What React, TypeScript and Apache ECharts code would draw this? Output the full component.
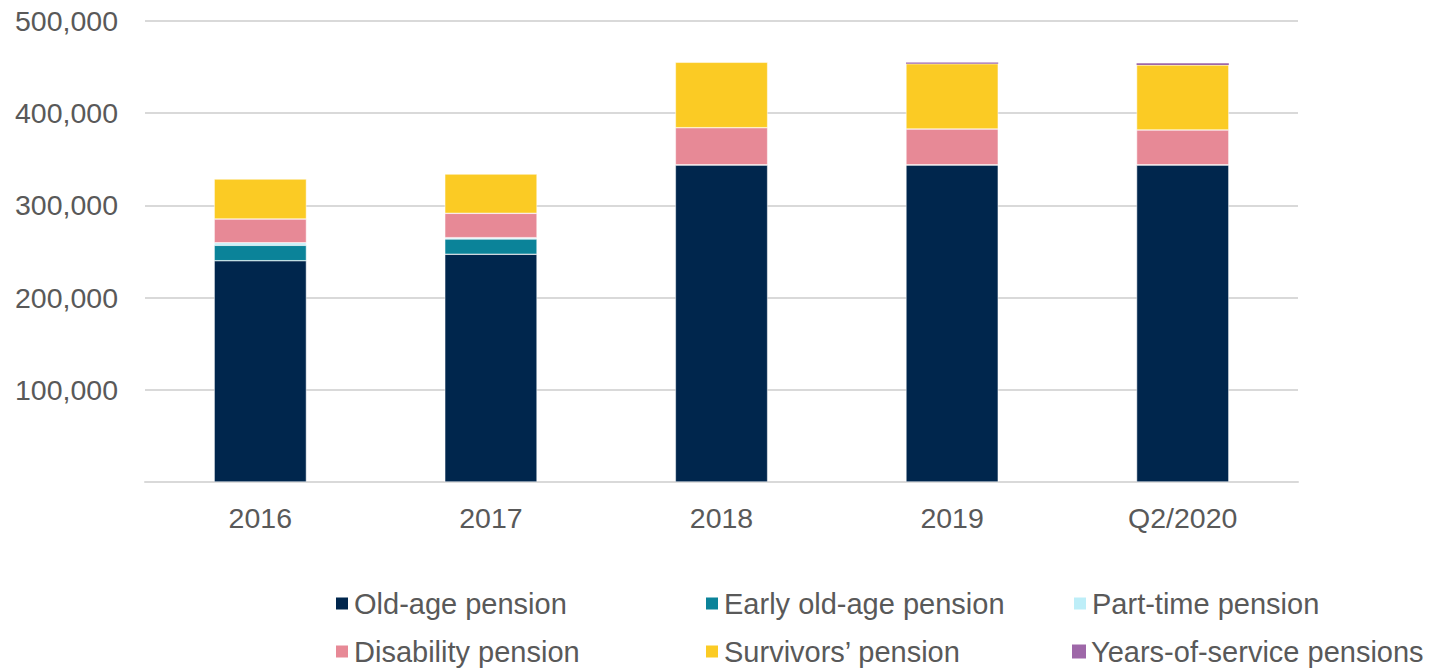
import React, { useEffect, useRef } from "react";
import * as echarts from "echarts";

const categories = ["2016", "2017", "2018", "2019", "Q2/2020"];
const oldAge = [240000, 247000, 344000, 344000, 344000];
const earlyOldAge = [16700, 16600, 0, 0, 0];
const partTime = [2800, 1400, 0, 0, 0];
const disability = [25700, 26400, 40300, 38800, 37800];
const survivors = [43400, 42600, 70900, 70800, 70500];
const yearsOfService = [0, 0, 0, 1500, 1800];

const seriesNames = [
  "Old-age pension",
  "Early old-age pension",
  "Part-time pension",
  "Disability pension",
  "Survivors\u2019 pension",
  "Years-of-service pensions",
];
const seriesData = [oldAge, earlyOldAge, partTime, disability, survivors, yearsOfService];
const colors = ["#00264d", "#0b8399", "#bdeef8", "#e78996", "#fbcb24", "#9e67a8"];

const FONT = "'Liberation Sans', Arial, sans-serif";
const TEXT_COLOR = "#595959";

export default function App() {
  const ref = useRef<HTMLDivElement>(null);

  useEffect(() => {
    if (!ref.current) return;
    const chart = echarts.init(ref.current, null, { renderer: "svg" });

    const legendPos = [
      { left: 334, top: 589 },
      { left: 704, top: 589 },
      { left: 1072, top: 589 },
      { left: 334, top: 637 },
      { left: 704, top: 637 },
      { left: 1072, top: 637 },
    ];

    chart.setOption({
      animation: false,
      color: colors,
      grid: { left: 145, right: 137, top: 21, bottom: 187, containLabel: false },
      legend: seriesNames.map((n, i) => ({
        data: [n],
        left: legendPos[i].left,
        top: legendPos[i].top,
        icon: "rect",
        itemWidth: 14,
        itemHeight: 14,
        padding: 0,
        selectedMode: false,
        textStyle: { fontSize: 29, color: TEXT_COLOR, fontFamily: FONT },
      })),
      xAxis: {
        type: "category",
        data: categories,
        axisTick: { show: false },
        axisLine: { lineStyle: { color: "#d9d9d9", width: 2 } },
        axisLabel: { fontSize: 28.5, color: TEXT_COLOR, fontFamily: FONT, margin: 21 },
      },
      yAxis: {
        type: "value",
        min: 0,
        max: 500000,
        interval: 100000,
        axisLine: { show: false },
        axisTick: { show: false },
        splitLine: { lineStyle: { color: "#d9d9d9", width: 2 } },
        axisLabel: {
          fontSize: 28.5,
          color: TEXT_COLOR,
          fontFamily: FONT,
          margin: 27,
          formatter: (v: number) => (v === 0 ? "" : v.toLocaleString("en-US")),
        },
      },
      series: seriesNames.map((n, i) => ({
        name: n,
        type: "bar",
        stack: "total",
        barWidth: "40%",
        data: seriesData[i],
        itemStyle: { color: colors[i], borderColor: "#ffffff", borderWidth: i === 5 ? 0 : 0.5 },
      })),
    });

    return () => chart.dispose();
  }, []);

  return (
    <div
      ref={ref}
      style={{ position: "fixed", left: 0, top: 0, width: 1435, height: 669, background: "#fff" }}
    />
  );
}
